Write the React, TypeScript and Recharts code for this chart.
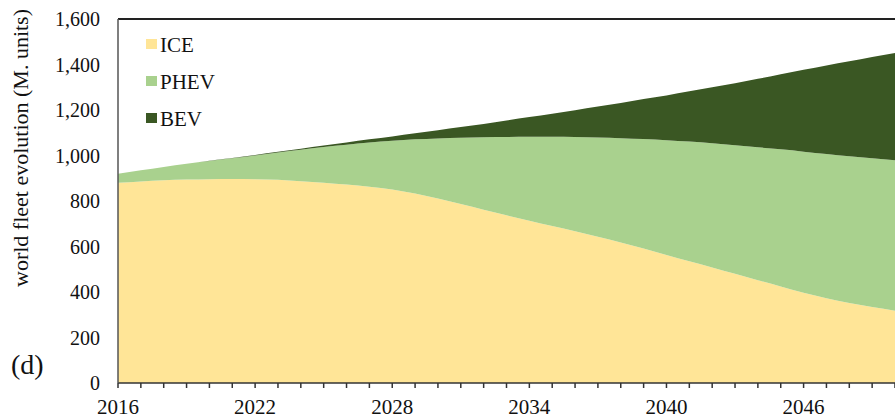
import { AreaChart, Area, XAxis, YAxis, ReferenceLine } from 'recharts';

const years = [
  2016, 2017, 2018, 2019, 2020, 2021, 2022, 2023, 2024, 2025, 2026, 2027,
  2028, 2029, 2030, 2031, 2032, 2033, 2034, 2035, 2036, 2037, 2038, 2039,
  2040, 2041, 2042, 2043, 2044, 2045, 2046, 2047, 2048, 2049, 2050,
];

const ice = [
  880, 886, 891, 894, 896, 897, 896, 893, 887, 880, 872, 863,
  851, 833, 811, 787, 762, 737, 713, 690, 667, 643, 618, 591,
  563, 535, 508, 480, 452, 424, 397, 373, 352, 334, 318,
];

const phev = [
  40, 49, 59, 70, 80, 91, 104, 120, 138, 157, 175, 194,
  214, 238, 264, 291, 318, 344, 369, 392, 414, 436, 458, 481,
  504, 526, 546, 565, 584, 603, 620, 634, 645, 654, 661,
];

const bev = [
  0, 0, 0, 0, 1, 1, 2, 3, 5, 7, 10, 14,
  19, 27, 36, 47, 59, 73, 87, 102, 118, 136, 155, 176,
  197, 221, 246, 273, 301, 330, 360, 389, 417, 445, 472,
];

const yTicks = [0, 200, 400, 600, 800, 1000, 1200, 1400, 1600];
const labelYears = [2016, 2022, 2028, 2034, 2040, 2046];

const series = [
  { key: 'ICE', color: '#FFE597' },
  { key: 'PHEV', color: '#A9D18E' },
  { key: 'BEV', color: '#3A5723' },
];

const data = years.map((year, i) => ({ year, ICE: ice[i], PHEV: phev[i], BEV: bev[i] }));

const font = '"Liberation Serif", "Times New Roman", serif';

export default function App() {
  return (
    <div style={{ position: 'absolute', left: 0, top: 0, width: 895, height: 419, background: '#fff' }}>
      <AreaChart width={895} height={419} data={data} margin={{ top: 19, right: 0, left: 0, bottom: 0 }}>
        <XAxis
          dataKey="year"
          type="number"
          domain={[2016, 2050]}
          ticks={years}
          interval={0}
          tickFormatter={(v: number) => (labelYears.includes(v) ? String(v) : '')}
          height={36}
          tickSize={5}
          tickMargin={11}
          axisLine={{ stroke: '#333', strokeWidth: 1.5 }}
          tickLine={{ stroke: '#333', strokeWidth: 1.5 }}
          tick={{ fontSize: 21, fill: '#111', fontFamily: font }}
        />
        <YAxis
          type="number"
          domain={[0, 1600]}
          ticks={yTicks}
          interval={0}
          width={118}
          tickLine={false}
          tickSize={16}
          tickMargin={2}
          tickFormatter={(v: number) => v.toLocaleString('en-US')}
          axisLine={{ stroke: '#555', strokeWidth: 1.5 }}
          tick={{ fontSize: 20, fill: '#111', fontFamily: font }}
        />
        {series.map((s) => (
          <Area
            key={s.key}
            type="monotone"
            dataKey={s.key}
            stackId="fleet"
            stroke="none"
            fill={s.color}
            fillOpacity={1}
            isAnimationActive={false}
          />
        ))}
        <ReferenceLine y={1600} stroke="#222" strokeWidth={2} />
        <text
          x={20}
          y={148}
          transform="rotate(-90 20 148)"
          textAnchor="middle"
          dominantBaseline="central"
          fontSize={22}
          fontFamily={font}
          fill="#111"
        >
          world fleet evolution (M. units)
        </text>
        <text x={11} y={364} dominantBaseline="central" fontSize={28} fontFamily={font} fill="#111">
          (d)
        </text>
        {series.map((s, i) => (
          <g key={s.key}>
            <rect x={146} y={39 + i * 37} width={11} height={10} fill={s.color} />
            <text x={160} y={45 + i * 37} dominantBaseline="central" fontSize={21} fontFamily={font} fill="#111">
              {s.key}
            </text>
          </g>
        ))}
      </AreaChart>
    </div>
  );
}
